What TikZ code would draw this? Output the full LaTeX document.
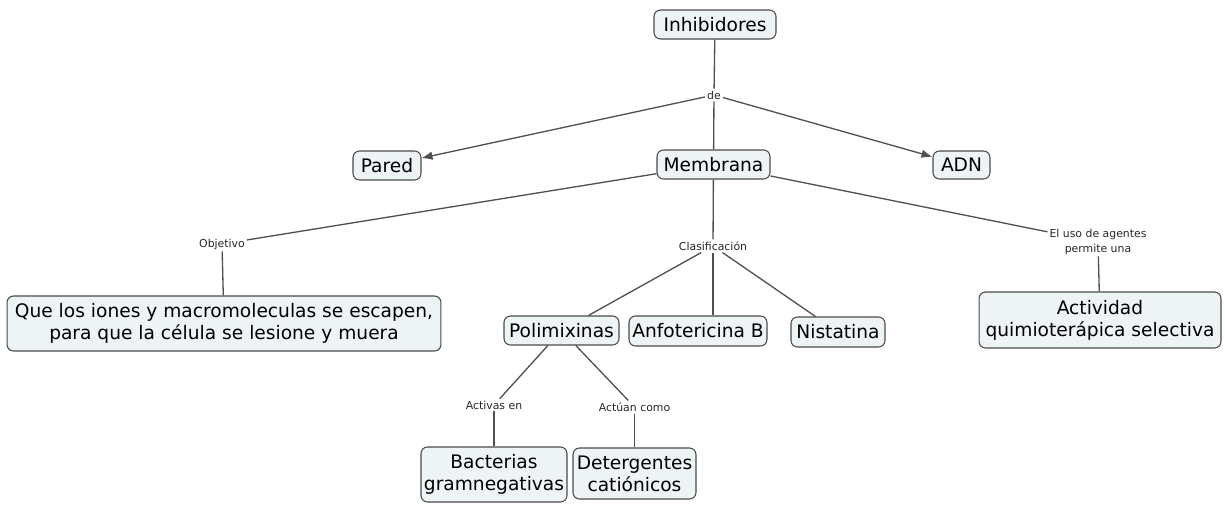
\documentclass[tikz,border=0pt]{standalone}
\usepackage{fontspec}
\setmainfont{DejaVu Sans}
\usepackage{tikz}
\usetikzlibrary{arrows.meta}

\definecolor{boxfill}{HTML}{EEF3F5}
\definecolor{boxline}{HTML}{4A4A4A}
\definecolor{linkline}{HTML}{505050}

\tikzset{
  concept/.style={draw=boxline, fill=boxfill, rounded corners=0.13cm, line width=0.6pt,
    inner sep=0pt, align=center, font=\fontsize{10.6pt}{12.6pt}\selectfont},
  linkword/.style={inner sep=1pt, align=center, text=black!85,
    font=\fontsize{6.2pt}{8pt}\selectfont},
  link/.style={draw=linkline, line width=0.75pt},
}

\begin{document}
\begin{tikzpicture}[x=0.02cm, y=-0.02cm]

\useasboundingbox (0,0) rectangle (1225,508);

%concepts
\node[concept, minimum width=2.44cm, minimum height=0.58cm] (inh)  at (715,24.5)  {Inhibidores};
\node[concept, minimum width=1.36cm, minimum height=0.58cm] (pared) at (387,165.5) {Pared};
\node[concept, minimum width=2.26cm, minimum height=0.58cm] (mem)  at (713.5,164.5) {Membrana};
\node[concept, minimum width=1.14cm, minimum height=0.56cm] (adn)  at (961.5,165) {ADN};
%
\node[concept, minimum width=8.68cm, minimum height=1.10cm] (que)  at (224,323.5)
  {Que los iones y macromoleculas se escapen,\\para que la célula se lesione y muera};
\node[concept, minimum width=2.30cm, minimum height=0.58cm] (poli) at (561.5,330.5) {Polimixinas};
\node[concept, minimum width=2.76cm, minimum height=0.60cm] (anfo) at (698,331)   {Anfotericina B};
\node[concept, minimum width=1.88cm, minimum height=0.60cm] (nist) at (838,332)   {Nistatina};
\node[concept, minimum width=4.84cm, minimum height=1.12cm] (acti) at (1100,320)  {Actividad\\quimioterápica selectiva};
%
\node[concept, minimum width=2.92cm, minimum height=1.10cm] (bact) at (494,474.5) {Bacterias\\gramnegativas};
\node[concept, minimum width=2.46cm, minimum height=1.02cm] (dete) at (634.5,473.5) {Detergentes\\catiónicos};

%linking words
\node[linkword] (de)     at (714,95)    {de};
\node[linkword] (obj)    at (222,244)   {Objetivo};
\node[linkword] (clas)   at (713,246)   {Clasificación};
\node[linkword] (uso)    at (1098,242)  {El uso de agentes\\permite una};
\node[linkword] (activa) at (494,405)   {Activas en};
\node[linkword] (actua)  at (634.5,407) {Actúan como};

%links
\draw[link] (inh)--(de);
\draw[link, -{Latex[length=0.22cm, width=0.17cm]}] (de)--(pared);
\draw[link] (de)--(mem);
\draw[link, -{Latex[length=0.22cm, width=0.17cm]}] (de)--(adn);
%
\draw[link] (mem)--(obj);    \draw[link] (obj)--(que);
\draw[link] (mem)--(clas);
\draw[link] (clas)--(poli);  \draw[link] (clas.south)--(clas.south |- anfo.north);  \draw[link] (clas)--(nist);
\draw[link] (mem)--(uso);    \draw[link] (uso)--(acti);
%
\draw[link] (poli)--(activa); \draw[link] (activa)--(bact);
\draw[link] (poli)--(actua);  \draw[link] (actua)--(dete);

\end{tikzpicture}
\end{document}
